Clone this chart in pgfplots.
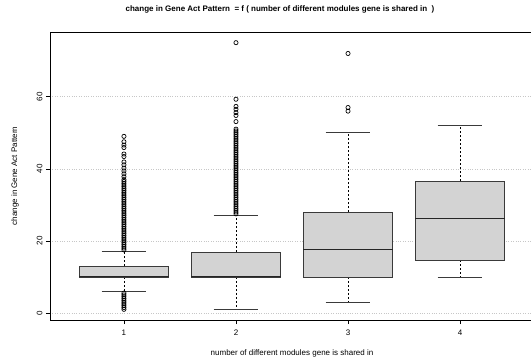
\documentclass[border=0pt]{standalone}
\usepackage{pgfplots}
\pgfplotsset{compat=1.18}
\usepgfplotslibrary{statistics}
\usepackage{fontspec}
\setmainfont{Liberation Sans}
\definecolor{boxfill}{HTML}{D3D3D3}
\definecolor{boxedge}{HTML}{3A3A3A}
\pgfplotsset{
  boxplot/draw/lower whisker/.code={%
    \draw[dash pattern=on 2pt off 2pt, black, line width=0.5pt]
      (boxplot cs:\pgfplotsboxplotvalue{lower quartile}) -- (boxplot cs:\pgfplotsboxplotvalue{lower whisker});
    \draw[boxedge, line width=0.8pt]
      (boxplot whisker cs:\pgfplotsboxplotvalue{lower whisker},0) -- (boxplot whisker cs:\pgfplotsboxplotvalue{lower whisker},1);
  },
  boxplot/draw/upper whisker/.code={%
    \draw[dash pattern=on 2pt off 2pt, black, line width=0.5pt]
      (boxplot cs:\pgfplotsboxplotvalue{upper quartile}) -- (boxplot cs:\pgfplotsboxplotvalue{upper whisker});
    \draw[boxedge, line width=0.8pt]
      (boxplot whisker cs:\pgfplotsboxplotvalue{upper whisker},0) -- (boxplot whisker cs:\pgfplotsboxplotvalue{upper whisker},1);
  },
}
\begin{document}
\begin{tikzpicture}
\begin{axis}[
  at={(0pt,0pt)}, anchor=south west,
  scale only axis, width=484pt, height=288pt,
  xmin=0.34, xmax=4.66, ymin=-1.96, ymax=77.96,
  xtick={1,2,3,4}, ytick={0,20,40,60},
  xtick pos=bottom, ytick pos=left,
  tick align=outside, major tick length=4pt,
  tick style={black, line width=0.5pt},
  axis line style={black, line width=0.6pt},
  ymajorgrids, major grid style={black!22, dotted, line width=0.5pt},
  /pgf/number format/assume math mode=true,
  tick label style={font=\fontsize{8}{9}\selectfont},
  xticklabel style={yshift=-2pt},
  yticklabel style={rotate=90, anchor=south},
  label style={font=\fontsize{8}{9}\selectfont},
  xlabel={number of different modules gene is shared in},
  ylabel={change in Gene Act Pattern},
  xlabel style={at={(axis description cs:0.5,0)}, anchor=center, yshift=-33pt},
  ylabel style={at={(axis description cs:0,0.5)}, anchor=center, yshift=35pt},
  title={change in Gene Act Pattern\ \ = f ( number of different modules gene is shared in\ \ )},
  title style={font=\bfseries\fontsize{8}{9}\selectfont, at={(axis description cs:0.5,1)}, anchor=center, yshift=17pt, xshift=-12pt},
  boxplot/draw direction=y,
  boxplot/box extend=0.8,
  boxplot/whisker extend=0.4,
  boxplot/every box/.style={fill=boxfill, draw=boxedge, line width=0.8pt},
  boxplot/every median/.style={black!85, line width=1.1pt},
]
% group 1
\addplot[boxplot prepared={draw position=1, lower whisker=6, lower quartile=10, median=10, upper quartile=13, upper whisker=17},
  mark=o, mark size=2.1pt, mark options={black, line width=0.7pt}, draw=boxedge]
table[row sep=\\, y index=0] {v\\
49\\ 47.5\\ 46.6\\ 45.9\\ 44.1\\ 43.4\\ 41.9\\ 41.1\\ 40.2\\ 39.4\\ 38.6\\ 37.8\\
37\\ 36.5\\ 36\\ 35.5\\ 35\\ 34.5\\ 34\\ 33.5\\ 33\\ 32.5\\ 32\\ 31.5\\ 31\\ 30.5\\ 30\\
29.5\\ 29\\ 28.5\\ 28\\ 27.5\\ 27\\ 26.5\\ 26\\ 25.5\\ 25\\ 24.5\\ 24\\ 23.5\\ 23\\
22.5\\ 22\\ 21.5\\ 21\\ 20.5\\ 20\\ 19.5\\ 19\\ 18.5\\ 18\\ 17.5\\
5.5\\ 5\\ 4.5\\ 4\\ 3.5\\ 3\\ 2.5\\ 2\\ 1.5\\ 1\\
};
% group 2
\addplot[boxplot prepared={draw position=2, lower whisker=1, lower quartile=10, median=10, upper quartile=16.9, upper whisker=27.2},
  mark=o, mark size=2.1pt, mark options={black, line width=0.7pt}, draw=boxedge]
table[row sep=\\, y index=0] {v\\
75\\ 59.3\\ 57.3\\ 56.5\\ 55.6\\ 54.8\\ 53.1\\
51\\ 50.5\\ 50\\ 49.5\\ 49\\ 48.5\\ 48\\ 47.5\\ 47\\ 46.5\\ 46\\ 45.5\\ 45\\ 44.5\\ 44\\
43.5\\ 43\\ 42.5\\ 42\\ 41.5\\ 41\\ 40.5\\ 40\\ 39.5\\ 39\\ 38.5\\ 38\\ 37.5\\ 37\\
36.5\\ 36\\ 35.5\\ 35\\ 34.5\\ 34\\ 33.5\\ 33\\ 32.5\\ 32\\ 31.5\\ 31\\ 30.5\\ 30\\
29.5\\ 29\\ 28.5\\ 28\\ 27.5\\
};
% group 3
\addplot[boxplot prepared={draw position=3, lower whisker=3, lower quartile=10, median=17.5, upper quartile=28, upper whisker=50},
  mark=o, mark size=2.1pt, mark options={black, line width=0.7pt}, draw=boxedge]
table[row sep=\\, y index=0] {v\\ 72\\ 57\\ 56\\ };
% group 4
\addplot[boxplot prepared={draw position=4, lower whisker=10, lower quartile=14.6, median=26.2, upper quartile=36.6, upper whisker=52},
  mark=o, mark size=2.1pt, mark options={black, line width=0.7pt}, draw=boxedge]
coordinates {};
\end{axis}
\pgfresetboundingbox
\useasboundingbox (-50pt,-40pt) rectangle (481pt,320pt);
\end{tikzpicture}
\end{document}
